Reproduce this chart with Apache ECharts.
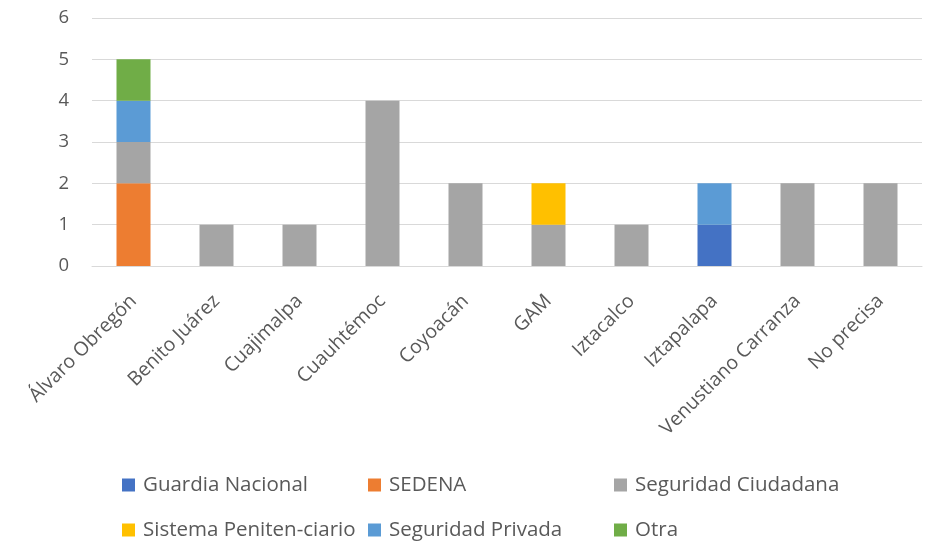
<!DOCTYPE html>
<html><head><meta charset="utf-8">
<script src="https://cdn.jsdelivr.net/npm/echarts@6/dist/echarts.min.js"></script>
<style>html,body{margin:0;padding:0;background:#fff}#c{width:936px;height:542px}</style>
</head><body><div id="c"></div>
<script>
const categories = ['Álvaro Obregón','Benito Juárez','Cuajimalpa','Cuauhtémoc','Coyoacán','GAM','Iztacalco','Iztapalapa','Venustiano Carranza','No precisa'];
const guardiaNacional      = [0,0,0,0,0,0,0,1,0,0];
const sedena               = [2,0,0,0,0,0,0,0,0,0];
const seguridadCiudadana   = [1,1,1,4,2,1,1,0,2,2];
const sistemaPenitenciario = [0,0,0,0,0,1,0,0,0,0];
const seguridadPrivada     = [1,0,0,0,0,0,0,1,0,0];
const otra                 = [1,0,0,0,0,0,0,0,0,0];
const yTicks = [0,1,2,3,4,5,6];

const names = ['Guardia Nacional','SEDENA','Seguridad Ciudadana','Sistema Peniten-ciario','Seguridad Privada','Otra'];
const colors = ['#4472C4','#ED7D31','#A5A5A5','#FFC000','#5B9BD5','#70AD47'];
const values = [guardiaNacional, sedena, seguridadCiudadana, sistemaPenitenciario, seguridadPrivada, otra];
const font = '"Open Sans", sans-serif';
const legendPos = [[122,474],[368,474],[614,474],[122,519],[368,519],[614,519]];

const chart = echarts.init(document.getElementById('c'));
chart.setOption({
  animation:false,
  color: colors,
  grid:{left:92,right:14,top:18,bottom:276,containLabel:false},
  legend: names.map((n,i)=>({
    data:[n], left:legendPos[i][0], top:legendPos[i][1], padding:0,
    itemWidth:13, itemHeight:13, itemGap:4,
    icon:'rect', selectedMode:false,
    textStyle:{color:'#595959',fontSize:20.5,lineHeight:22,fontFamily:font,padding:[0,0,0,3]}
  })),
  xAxis:{
    type:'category', data:categories,
    axisLine:{lineStyle:{color:'#D9D9D9'}},
    axisTick:{show:false},
    axisLabel:{rotate:45,color:'#595959',fontSize:19.5,fontFamily:font,margin:32,interval:0}
  },
  yAxis:{
    type:'value', min:yTicks[0], max:yTicks[yTicks.length-1], interval:1,
    axisLine:{show:false}, axisTick:{show:false},
    splitLine:{lineStyle:{color:'#D9D9D9',width:1}},
    axisLabel:{color:'#595959',fontSize:18.5,fontFamily:font,margin:23}
  },
  series: names.map((n,i)=>({
    name:n, type:'bar', stack:'total', data:values[i], barWidth:34,
    itemStyle:{color:colors[i]}
  }))
});
</script></body></html>
